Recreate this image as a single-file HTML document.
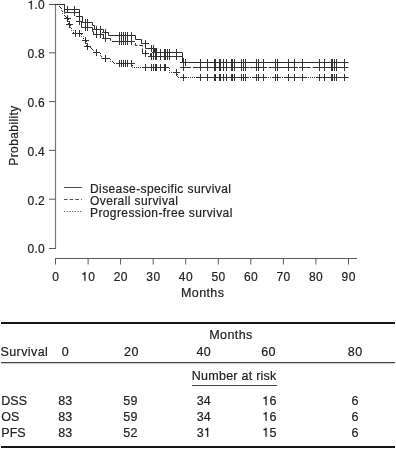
<!DOCTYPE html>
<html><head><meta charset="utf-8"><style>
html,body{margin:0;padding:0;background:#fff;width:396px;height:449px;overflow:hidden}
svg{display:block;will-change:transform}
.one{fill-opacity:0;stroke-opacity:0}
text{font-family:"Liberation Sans", sans-serif;fill:#222;letter-spacing:0.4px;stroke:#222;stroke-width:0.2px}
</style></head><body>
<div id="w"><svg width="396" height="449" viewBox="0 0 396 449">
<path d="M55.5 4 V248.5" stroke="#777" stroke-width="1.15" fill="none"/>
<path d="M49 4.5 H56 M49 52.8 H56 M49 101.6 H56 M49 150.4 H56 M49 199.2 H56 M49 248.5 H56" stroke="#5a5a5a" stroke-width="1" fill="none"/>
<path d="M55 258.5 H357 M55.5 258 V264.5 M88.1 258 V264.5 M120.6 258 V264.5 M153.2 258 V264.5 M185.7 258 V264.5 M218.3 258 V264.5 M250.8 258 V264.5 M283.4 258 V264.5 M315.9 258 V264.5 M348.5 258 V264.5 " stroke="#5a5a5a" stroke-width="1" fill="none"/>
<text x="44.9" y="253.3" text-anchor="end" font-size="12" style="letter-spacing:0.2px">0.0</text>
<text x="44.9" y="204.5" text-anchor="end" font-size="12" style="letter-spacing:0.2px">0.2</text>
<text x="44.9" y="155.7" text-anchor="end" font-size="12" style="letter-spacing:0.2px">0.4</text>
<text x="44.9" y="106.9" text-anchor="end" font-size="12" style="letter-spacing:0.2px">0.6</text>
<text x="44.9" y="58.1" text-anchor="end" font-size="12" style="letter-spacing:0.2px">0.8</text>
<text x="44.9" y="9.3" text-anchor="end" font-size="12" style="letter-spacing:0.2px"><tspan class="one">1</tspan>.0</text>
<text x="55.7" y="280.7" text-anchor="middle" font-size="12">0</text>
<text x="88.3" y="280.7" text-anchor="middle" font-size="12"><tspan class="one">1</tspan>0</text>
<text x="120.8" y="280.7" text-anchor="middle" font-size="12">20</text>
<text x="153.4" y="280.7" text-anchor="middle" font-size="12">30</text>
<text x="185.9" y="280.7" text-anchor="middle" font-size="12">40</text>
<text x="218.5" y="280.7" text-anchor="middle" font-size="12">50</text>
<text x="251.0" y="280.7" text-anchor="middle" font-size="12">60</text>
<text x="283.6" y="280.7" text-anchor="middle" font-size="12">70</text>
<text x="316.1" y="280.7" text-anchor="middle" font-size="12">80</text>
<text x="348.7" y="280.7" text-anchor="middle" font-size="12">90</text>
<text x="202.7" y="297" text-anchor="middle" font-size="12.5">Months</text>
<text transform="translate(18 135.5) rotate(-90)" text-anchor="middle" font-size="12">Probability</text>
<path d="M64 187.5 H82" stroke="#4a4a4a" stroke-width="1"/>
<path d="M64 199.5 H82" stroke="#4a4a4a" stroke-width="1" stroke-dasharray="3.5 2.2"/>
<path d="M64 211.5 H82" stroke="#4a4a4a" stroke-width="1" stroke-dasharray="1 1.7"/>
<text x="90" y="192.5" font-size="12">Disease-specific survival</text>
<text x="90" y="204.5" font-size="12">Overall survival</text>
<text x="90" y="216.5" font-size="12">Progression-free survival</text>
<path d="M55.0 4.5 L64.5 4.5 L64.5 9.5 L79.5 9.5 L79.5 16.5 L82.5 16.5 L82.5 22.5 L92.5 22.5 L92.5 25.5 L94.5 25.5 L94.5 29.5 L103.5 29.5 L103.5 32.5 L108.5 32.5 L108.5 35.5 L135.5 35.5 L135.5 39.5 L141.5 39.5 L141.5 43.5 L145.5 43.5 L145.5 48.5 L154.5 48.5 L154.5 52.5 L182.5 52.5 L182.5 62.5 L348.5 62.5" fill="none" stroke="#2e2e2e" stroke-width="1.0" /><path d="M67.50 6.00v7.0M64.00 9.50H64.50M74.50 6.00v7.0M79.50 13.00v7.0M76.00 16.50H79.50M82.50 16.50H83.00M85.50 19.00v7.0M82.00 22.50H82.50M87.50 19.00v7.0M96.50 26.00v7.0M93.00 29.50H94.50M100.50 26.00v7.0M103.50 29.50H104.00M105.50 29.00v7.0M102.00 32.50H103.50M108.50 32.50H109.00M119.50 32.00v7.0M121.50 32.00v7.0M123.50 32.00v7.0M125.50 32.00v7.0M127.50 32.00v7.0M131.50 32.00v7.0M145.50 40.00v7.0M145.50 43.50H149.00M151.50 45.00v7.0M154.50 48.50H155.00M153.50 45.00v7.0M154.50 48.50H157.00M155.50 49.00v7.0M152.00 52.50H154.50M156.50 49.00v7.0M153.00 52.50H154.50M160.50 49.00v7.0M164.50 49.00v7.0M165.50 49.00v7.0M167.50 49.00v7.0M169.50 49.00v7.0M176.50 49.00v7.0M183.50 59.00v7.0M180.00 62.50H182.50M200.50 59.00v7.0M207.50 59.00v7.0M214.50 59.00v7.0M215.50 59.00v7.0M219.50 59.00v7.0M220.50 59.00v7.0M223.50 59.00v7.0M226.50 59.00v7.0M231.50 59.00v7.0M232.50 59.00v7.0M234.50 59.00v7.0M241.50 59.00v7.0M243.50 59.00v7.0M245.50 59.00v7.0M256.50 59.00v7.0M258.50 59.00v7.0M263.50 59.00v7.0M275.50 59.00v7.0M277.50 59.00v7.0M288.50 59.00v7.0M294.50 59.00v7.0M302.50 59.00v7.0M319.50 59.00v7.0M324.50 59.00v7.0M331.50 59.00v7.0M332.50 59.00v7.0M334.50 59.00v7.0M336.50 59.00v7.0M344.50 59.00v7.0M185.50 59.00v7.0M182.00 62.50H182.50" fill="none" stroke="#333" stroke-width="1.0"/>
<path d="M55.0 4.5 L64.5 4.5 L64.5 12.5 L79.5 12.5 L79.5 21.5 L81.5 21.5 L81.5 27.5 L92.5 27.5 L92.5 31.5 L93.5 31.5 L93.5 34.5 L103.5 34.5 L103.5 38.5 L108.5 38.5" fill="none" stroke="#2e2e2e" stroke-width="1.0"/><path d="M108.5 38.5 L110.5 38.5 L110.5 41.5 L135.5 41.5 L135.5 45.5 L142.5 45.5 L142.5 53.5 L150.5 53.5 L150.5 56.5 L183.5 56.5 L183.5 67.5 L348.5 67.5" fill="none" stroke="#2e2e2e" stroke-width="1.0" stroke-dasharray="4.3 2"/><path d="M74.50 9.00v7.0M71.00 12.50H78.00M79.50 18.00v7.0M76.00 21.50H83.00M85.50 24.00v7.0M82.00 27.50H89.00M87.50 24.00v7.0M84.00 27.50H91.00M96.50 31.00v7.0M93.00 34.50H100.00M100.50 31.00v7.0M97.00 34.50H104.00M105.50 35.00v7.0M102.00 38.50H109.00M119.50 38.00v7.0M116.00 41.50H123.00M121.50 38.00v7.0M118.00 41.50H125.00M123.50 38.00v7.0M120.00 41.50H127.00M125.50 38.00v7.0M122.00 41.50H129.00M127.50 38.00v7.0M124.00 41.50H131.00M131.50 38.00v7.0M128.00 41.50H135.00M145.50 50.00v7.0M142.00 53.50H149.00M151.50 53.00v7.0M148.00 56.50H155.00M153.50 53.00v7.0M150.00 56.50H157.00M155.50 53.00v7.0M152.00 56.50H159.00M156.50 53.00v7.0M153.00 56.50H160.00M160.50 53.00v7.0M157.00 56.50H164.00M164.50 53.00v7.0M161.00 56.50H168.00M165.50 53.00v7.0M162.00 56.50H169.00M167.50 53.00v7.0M164.00 56.50H171.00M169.50 53.00v7.0M166.00 56.50H173.00M176.50 53.00v7.0M173.00 56.50H180.00M183.50 64.00v7.0M180.00 67.50H187.00M200.50 64.00v7.0M197.00 67.50H204.00M207.50 64.00v7.0M204.00 67.50H211.00M214.50 64.00v7.0M211.00 67.50H218.00M215.50 64.00v7.0M212.00 67.50H219.00M219.50 64.00v7.0M216.00 67.50H223.00M220.50 64.00v7.0M217.00 67.50H224.00M223.50 64.00v7.0M220.00 67.50H227.00M226.50 64.00v7.0M223.00 67.50H230.00M231.50 64.00v7.0M228.00 67.50H235.00M232.50 64.00v7.0M229.00 67.50H236.00M234.50 64.00v7.0M231.00 67.50H238.00M241.50 64.00v7.0M238.00 67.50H245.00M243.50 64.00v7.0M240.00 67.50H247.00M245.50 64.00v7.0M242.00 67.50H249.00M256.50 64.00v7.0M253.00 67.50H260.00M258.50 64.00v7.0M255.00 67.50H262.00M263.50 64.00v7.0M260.00 67.50H267.00M275.50 64.00v7.0M272.00 67.50H279.00M277.50 64.00v7.0M274.00 67.50H281.00M288.50 64.00v7.0M285.00 67.50H292.00M294.50 64.00v7.0M291.00 67.50H298.00M302.50 64.00v7.0M299.00 67.50H306.00M319.50 64.00v7.0M316.00 67.50H323.00M324.50 64.00v7.0M321.00 67.50H328.00M331.50 64.00v7.0M328.00 67.50H335.00M332.50 64.00v7.0M329.00 67.50H336.00M334.50 64.00v7.0M331.00 67.50H338.00M336.50 64.00v7.0M333.00 67.50H340.00M344.50 64.00v7.0M341.00 67.50H348.00" fill="none" stroke="#333" stroke-width="1.0"/>
<path d="M55.0 4.5 L59.5 4.5 L59.5 7.5 L61.5 7.5 L61.5 10.5 L62.5 10.5 L62.5 13.5 L64.5 13.5 L64.5 16.5 L66.5 16.5 L66.5 18.5 L68.5 18.5 L68.5 21.5 L68.5 21.5 L68.5 24.5 L70.5 24.5 L70.5 27.5 L71.5 27.5 L71.5 30.5 L73.5 30.5 L73.5 33.5 L81.5 33.5 L81.5 36.5 L83.5 36.5 L83.5 40.5 L86.5 40.5 L86.5 43.5 L86.5 43.5 L86.5 46.5 L90.5 46.5 L90.5 48.5 L92.5 48.5 L92.5 50.5 L93.5 50.5 L93.5 52.5 L100.5 52.5 L100.5 55.5 L101.5 55.5 L101.5 58.5 L110.5 58.5 L110.5 61.5 L113.5 61.5 L113.5 63.5 L132.5 63.5 L132.5 67.5 L169.5 67.5 L169.5 72.5 L177.5 72.5 L177.5 77.5 L348.5 77.5" fill="none" stroke="#2e2e2e" stroke-width="1.0" stroke-dasharray="1 1"/><path d="M67.50 15.00v7.0M64.00 18.50H71.00M69.50 21.00v7.0M66.00 24.50H73.00M75.50 30.00v7.0M72.00 33.50H79.00M79.50 30.00v7.0M76.00 33.50H83.00M85.50 37.00v7.0M82.00 40.50H89.00M87.50 43.00v7.0M84.00 46.50H91.00M96.50 49.00v7.0M93.00 52.50H100.00M105.50 55.00v7.0M102.00 58.50H109.00M119.50 60.00v7.0M116.00 63.50H123.00M121.50 60.00v7.0M118.00 63.50H125.00M123.50 60.00v7.0M120.00 63.50H127.00M125.50 60.00v7.0M122.00 63.50H129.00M127.50 60.00v7.0M124.00 63.50H131.00M131.50 60.00v7.0M128.00 63.50H135.00M145.50 64.00v7.0M142.00 67.50H149.00M151.50 64.00v7.0M148.00 67.50H155.00M153.50 64.00v7.0M150.00 67.50H157.00M155.50 64.00v7.0M152.00 67.50H159.00M156.50 64.00v7.0M153.00 67.50H160.00M160.50 64.00v7.0M157.00 67.50H164.00M164.50 64.00v7.0M161.00 67.50H168.00M165.50 64.00v7.0M162.00 67.50H169.00M176.50 69.00v7.0M173.00 72.50H180.00M183.50 74.00v7.0M180.00 77.50H187.00M200.50 74.00v7.0M197.00 77.50H204.00M207.50 74.00v7.0M204.00 77.50H211.00M214.50 74.00v7.0M211.00 77.50H218.00M215.50 74.00v7.0M212.00 77.50H219.00M219.50 74.00v7.0M216.00 77.50H223.00M220.50 74.00v7.0M217.00 77.50H224.00M223.50 74.00v7.0M220.00 77.50H227.00M226.50 74.00v7.0M223.00 77.50H230.00M231.50 74.00v7.0M228.00 77.50H235.00M232.50 74.00v7.0M229.00 77.50H236.00M234.50 74.00v7.0M231.00 77.50H238.00M241.50 74.00v7.0M238.00 77.50H245.00M243.50 74.00v7.0M240.00 77.50H247.00M245.50 74.00v7.0M242.00 77.50H249.00M256.50 74.00v7.0M253.00 77.50H260.00M258.50 74.00v7.0M255.00 77.50H262.00M263.50 74.00v7.0M260.00 77.50H267.00M275.50 74.00v7.0M272.00 77.50H279.00M277.50 74.00v7.0M274.00 77.50H281.00M288.50 74.00v7.0M285.00 77.50H292.00M294.50 74.00v7.0M291.00 77.50H298.00M302.50 74.00v7.0M299.00 77.50H306.00M319.50 74.00v7.0M316.00 77.50H323.00M324.50 74.00v7.0M321.00 77.50H328.00M331.50 74.00v7.0M328.00 77.50H335.00M332.50 74.00v7.0M329.00 77.50H336.00M334.50 74.00v7.0M331.00 77.50H338.00M336.50 74.00v7.0M333.00 77.50H340.00M344.50 74.00v7.0M341.00 77.50H348.00" fill="none" stroke="#333" stroke-width="1.0"/>
<path d="M1 323 H395" stroke="#161616" stroke-width="2"/>
<path d="M1 362.6 H395" stroke="#444" stroke-width="1.2"/>
<path d="M192 385.5 H277" stroke="#444" stroke-width="1"/>
<path d="M1 447 H395" stroke="#161616" stroke-width="1.8"/>
<text x="231" y="339.2" text-anchor="middle" font-size="12.5">Months</text>
<text x="0.5" y="356.2" font-size="12.5">Survival</text>
<text x="65.5" y="356.2" text-anchor="middle" font-size="12.5">0</text>
<text x="131.4" y="356.2" text-anchor="middle" font-size="12.5">20</text>
<text x="203.8" y="356.2" text-anchor="middle" font-size="12.5">40</text>
<text x="268.6" y="356.2" text-anchor="middle" font-size="12.5">60</text>
<text x="355.2" y="356.2" text-anchor="middle" font-size="12.5">80</text>
<text x="234.2" y="379.8" text-anchor="middle" font-size="12.5" style="letter-spacing:0.25px">Number at risk</text>
<text x="1.3" y="405.2" font-size="12.5" style="letter-spacing:0px">DSS</text>
<text x="65.3" y="405.2" text-anchor="middle" font-size="12.5" style="letter-spacing:0.2px">83</text>
<text x="130.4" y="405.2" text-anchor="middle" font-size="12.5" style="letter-spacing:0.2px">59</text>
<text x="203.8" y="405.2" text-anchor="middle" font-size="12.5" style="letter-spacing:0.2px">34</text>
<text x="269.4" y="405.2" text-anchor="middle" font-size="12.5" style="letter-spacing:0.2px"><tspan class="one">1</tspan>6</text>
<text x="355.2" y="405.2" text-anchor="middle" font-size="12.5" style="letter-spacing:0.2px">6</text>
<text x="1.3" y="420.9" font-size="12.5" style="letter-spacing:0px">OS</text>
<text x="65.3" y="420.9" text-anchor="middle" font-size="12.5" style="letter-spacing:0.2px">83</text>
<text x="130.4" y="420.9" text-anchor="middle" font-size="12.5" style="letter-spacing:0.2px">59</text>
<text x="203.8" y="420.9" text-anchor="middle" font-size="12.5" style="letter-spacing:0.2px">34</text>
<text x="269.4" y="420.9" text-anchor="middle" font-size="12.5" style="letter-spacing:0.2px"><tspan class="one">1</tspan>6</text>
<text x="355.2" y="420.9" text-anchor="middle" font-size="12.5" style="letter-spacing:0.2px">6</text>
<text x="1.3" y="436.7" font-size="12.5" style="letter-spacing:0px">PFS</text>
<text x="65.3" y="436.7" text-anchor="middle" font-size="12.5" style="letter-spacing:0.2px">83</text>
<text x="130.4" y="436.7" text-anchor="middle" font-size="12.5" style="letter-spacing:0.2px">52</text>
<text x="203.8" y="436.7" text-anchor="middle" font-size="12.5" style="letter-spacing:0.2px">3<tspan class="one">1</tspan></text>
<text x="269.4" y="436.7" text-anchor="middle" font-size="12.5" style="letter-spacing:0.2px"><tspan class="one">1</tspan>5</text>
<text x="355.2" y="436.7" text-anchor="middle" font-size="12.5" style="letter-spacing:0.2px">6</text>
<path d="M30.75 9.30L31.83 9.30L31.83 0.71L31.05 0.71C30.63 1.62 29.91 2.04 28.83 2.16L28.83 3.00L30.75 3.00ZM84.37 280.70L85.45 280.70L85.45 272.11L84.67 272.11C84.25 273.02 83.53 273.44 82.45 273.56L82.45 274.40L84.37 274.40ZM265.52 405.20L266.64 405.20L266.64 396.25L265.83 396.25C265.39 397.20 264.64 397.64 263.52 397.76L263.52 398.64L265.52 398.64ZM265.52 420.90L266.64 420.90L266.64 411.95L265.83 411.95C265.39 412.90 264.64 413.34 263.52 413.46L263.52 414.34L265.52 414.34ZM207.08 436.70L208.20 436.70L208.20 427.75L207.39 427.75C206.95 428.70 206.20 429.14 205.08 429.26L205.08 430.14L207.08 430.14ZM265.52 436.70L266.64 436.70L266.64 427.75L265.83 427.75C265.39 428.70 264.64 429.14 263.52 429.26L263.52 430.14L265.52 430.14Z" fill="#222" stroke="#222" stroke-width="0.2"/>
</svg></div>
</body></html>
